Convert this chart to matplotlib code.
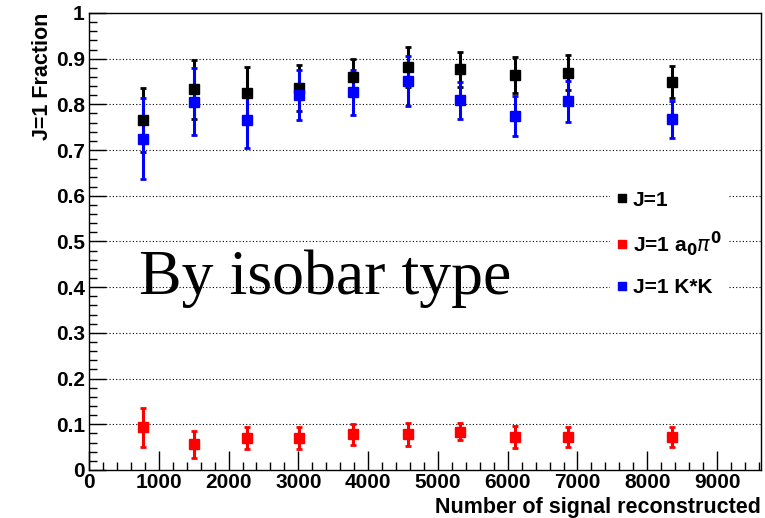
import numpy as np
import matplotlib
matplotlib.use("Agg")
import matplotlib.pyplot as plt
from matplotlib.ticker import MultipleLocator
from matplotlib.lines import Line2D

# data
n_signal = [774, 1505, 2265, 3011, 3785, 4573, 5319, 6108, 6867, 8358]

j1 = [0.765, 0.833, 0.825, 0.836, 0.860, 0.882, 0.877, 0.864, 0.869, 0.849]
j1_err = [0.070, 0.065, 0.057, 0.050, 0.040, 0.043, 0.038, 0.040, 0.038, 0.036]

j1_a0pi0 = [0.093, 0.056, 0.069, 0.069, 0.078, 0.078, 0.084, 0.072, 0.072, 0.072]
j1_a0pi0_err = [0.043, 0.029, 0.024, 0.024, 0.023, 0.025, 0.019, 0.024, 0.021, 0.021]

j1_kstark = [0.725, 0.806, 0.765, 0.820, 0.826, 0.851, 0.809, 0.774, 0.807, 0.767]
j1_kstark_err = [0.088, 0.074, 0.060, 0.055, 0.050, 0.054, 0.040, 0.044, 0.045, 0.040]

series_labels = ['J=1', r'J=1 a$_\mathbf{0}\pi^\mathbf{0}$', 'J=1 K*K']
series_colors = ['black', '#ff0000', '#0000ff']

plt.rcParams['font.family'] = ['Liberation Sans', 'DejaVu Sans']

fig = plt.figure(figsize=(7.65, 5.18), dpi=100)
ax = fig.add_axes([0.1163, 0.0927, 0.8785, 0.8823])

def draw(y, err, col):
    ax.errorbar(n_signal, y, yerr=err, fmt='s', color=col, ms=7.5,
                elinewidth=2.2, capsize=2.5, capthick=2)

draw(j1, j1_err, series_colors[0])
draw(j1_a0pi0, j1_a0pi0_err, series_colors[1])
draw(j1_kstark, j1_kstark_err, series_colors[2])

ax.set_xlim(0, 9630)
ax.set_ylim(0, 1)
ax.xaxis.set_major_locator(MultipleLocator(1000))
ax.xaxis.set_minor_locator(MultipleLocator(200))
ax.yaxis.set_major_locator(MultipleLocator(0.1))
ax.yaxis.set_minor_locator(MultipleLocator(0.02))
ax.yaxis.set_major_formatter(plt.FuncFormatter(lambda v, p: '0' if abs(v) < 1e-9 else ('1' if abs(v - 1) < 1e-9 else '%.1f' % v)))
ax.tick_params(which='major', direction='in', length=12, width=1, labelsize=15)
ax.tick_params(which='minor', direction='in', length=6, width=1)
ax.tick_params(axis='x', which='major', length=14, pad=2)
ax.tick_params(axis='y', which='major', pad=3)
ax.tick_params(top=False, right=False, which='both')
for t in ax.get_xticklabels() + ax.get_yticklabels():
    t.set_fontweight('bold')

for v in np.arange(0.1, 0.95, 0.1):
    ax.axhline(v, color='black', lw=0.8, ls=(0, (1, 2)), zorder=0)

for s in ax.spines.values():
    s.set_linewidth(1)

ax.set_xlabel('Number of signal reconstructed', fontsize=15.5, fontweight='bold',
              loc='right', labelpad=4)
ax.set_ylabel('J=1 Fraction', fontsize=15.5, fontweight='bold', loc='top', labelpad=2)

ax.text(0.075, 0.385, 'By isobar type', transform=ax.transAxes,
        family=['Liberation Serif', 'DejaVu Serif'], fontsize=46)

handles = [Line2D([], [], ls='none', marker='s', ms=6, color=c) for c in series_colors]
leg = ax.legend(handles, series_labels, loc='center left', bbox_to_anchor=(0.76, 0.495),
                frameon=True, fontsize=15, handlelength=0.5, handletextpad=0.3,
                labelspacing=0.95, borderpad=0.3)
leg.get_frame().set_edgecolor('none')
leg.get_frame().set_facecolor('white')
leg.get_frame().set_alpha(1)
for t in leg.get_texts():
    t.set_fontweight('bold')

fig.savefig('out.png', dpi=100)
